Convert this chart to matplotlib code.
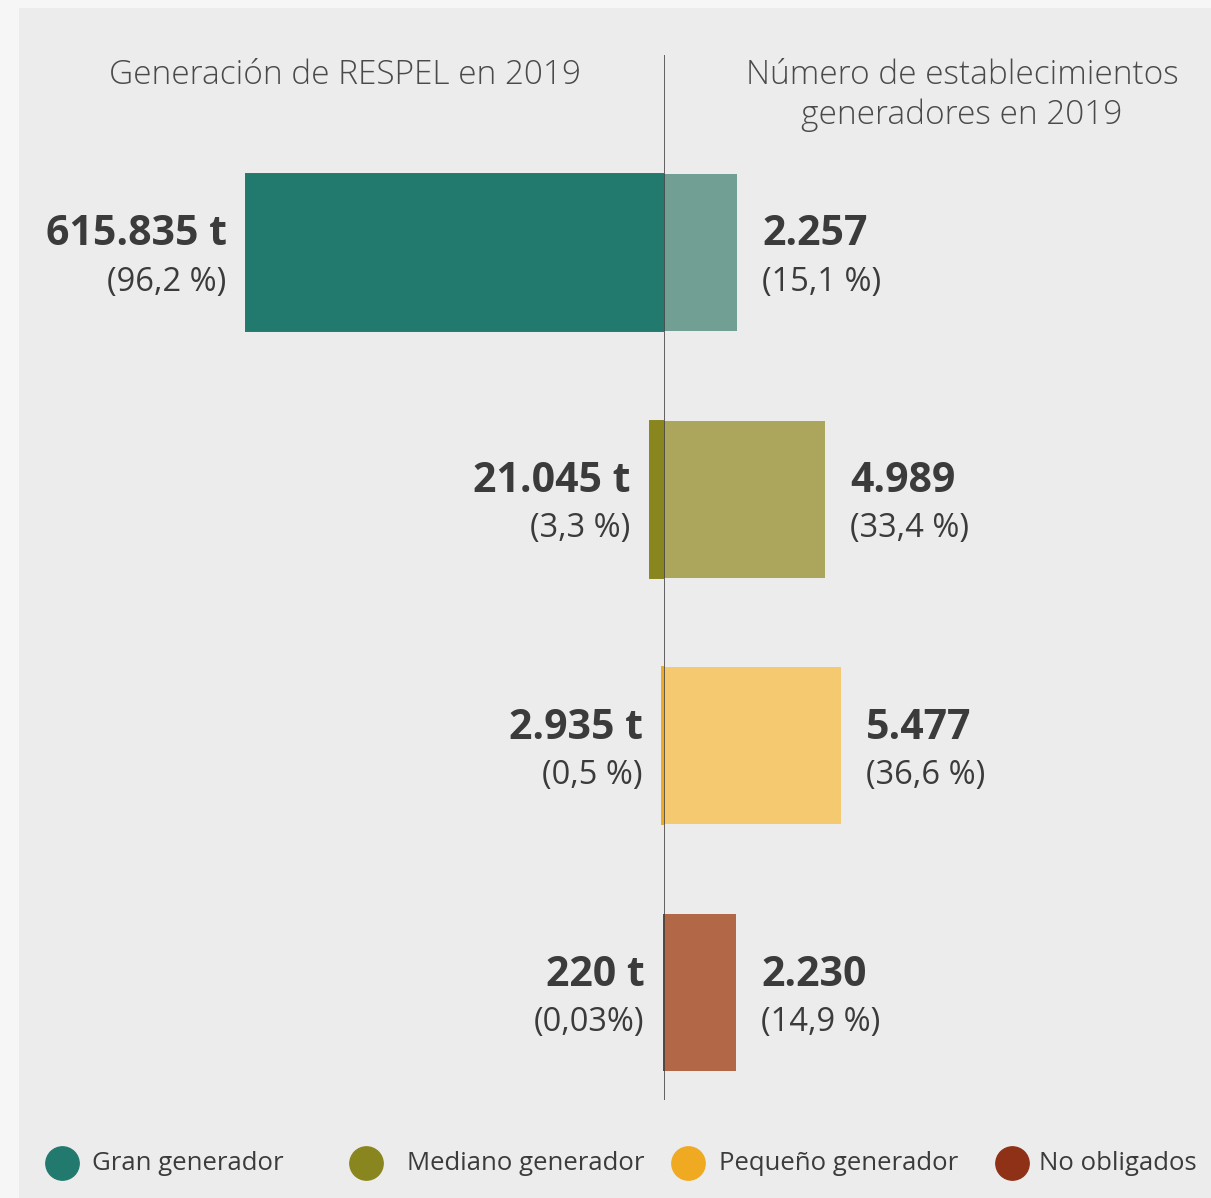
import matplotlib
matplotlib.use("Agg")
import matplotlib.pyplot as plt
from matplotlib.patches import Rectangle
from matplotlib.lines import Line2D

# ---------------- data ----------------
categories = ["Gran generador", "Mediano generador", "Pequeño generador", "No obligados"]
generacion_t = [615835, 21045, 2935, 220]
generacion_lbl = ["615.835 t", "21.045 t", "2.935 t", "220 t"]
generacion_pct = ["(96,2 %)", "(3,3 %)", "(0,5 %)", "(0,03%)"]
establecimientos = [2257, 4989, 5477, 2230]
establecimientos_lbl = ["2.257", "4.989", "5.477", "2.230"]
establecimientos_pct = ["(15,1 %)", "(33,4 %)", "(36,6 %)", "(14,9 %)"]
title_left = "Generación de RESPEL en 2019"
title_right = "Número de establecimientos\ngeneradores en 2019"

colors_dark = ["#217a6d", "#8a861f", "#efaa22", "#8e3116"]
colors_light = ["#729f94", "#aca55c", "#f4c970", "#b26847"]

# ---------------- figure ----------------
W, H = 1211, 1198
fig = plt.figure(figsize=(W / 100, H / 100), dpi=100)
fig.patch.set_facecolor("#f6f6f6")
fig.add_artist(Rectangle((19 / W, 0), 1 - 19 / W, (H - 8) / H,
                         transform=fig.transFigure, facecolor="#ececec",
                         edgecolor="none", zorder=0))

FONT = ["Open Sans", "DejaVu Sans"]
TXT = "#3b3b3b"

xc = 664          # centre line pixel
top, bot = 55, 1100
ax_y0 = (H - bot) / H
ax_h = (bot - top) / H

axL = fig.add_axes([19 / W, ax_y0, (xc - 19) / W, ax_h])
axR = fig.add_axes([xc / W, ax_y0, (W - xc) / W, ax_h])

for ax in (axL, axR):
    ax.set_facecolor("none")
    ax.set_axis_off()
    ax.set_ylim(3.436, -0.8)

axL.set_xlim(615835 * (xc - 19) / 418, 0)
axR.set_xlim(0, 2257 * (W - xc) / 73)

ypos = list(range(len(categories)))
bh = 0.636

axL.barh(ypos, generacion_t, height=bh, color=colors_dark,
         edgecolor=colors_dark, linewidth=1.4, zorder=2)
axR.barh(ypos, establecimientos, height=bh, color=colors_light,
         edgecolor="none", zorder=2)
axR.axvline(0, color="#3a3a3a", lw=1.1, zorder=5)

for i in ypos:
    axL.annotate(generacion_lbl[i], (generacion_t[i], i), xytext=(-14, 12.5),
                 textcoords="offset points", ha="right", va="center",
                 fontsize=29.5, fontweight="bold", color=TXT, family=FONT)
    axL.annotate(generacion_pct[i], (generacion_t[i], i), xytext=(-14, -21.5),
                 textcoords="offset points", ha="right", va="center",
                 fontsize=23.5, color=TXT, family=FONT)
    axR.annotate(establecimientos_lbl[i], (establecimientos[i], i), xytext=(18, 12.5),
                 textcoords="offset points", ha="left", va="center",
                 fontsize=29.5, fontweight="bold", color=TXT, family=FONT)
    axR.annotate(establecimientos_pct[i], (establecimientos[i], i), xytext=(18, -21.5),
                 textcoords="offset points", ha="left", va="center",
                 fontsize=23.5, color=TXT, family=FONT)

fig.text(345 / W, 1 - 75 / H, title_left, ha="center", va="center",
         fontsize=24, fontweight="light", color="#4a4a4a", family=FONT)
fig.text(962 / W, 1 - 95 / H, title_right, ha="center", va="center",
         fontsize=24, fontweight="light", color="#4a4a4a", family=FONT,
         linespacing=1.25)

# legend
leg_x = [62, 366, 688, 1012]
leg_tx = [92, 407, 719, 1039]
leg_y = 1 - 1163 / H
for i, c in enumerate(categories):
    fig.add_artist(Line2D([leg_x[i] / W], [leg_y], marker="o", markersize=24,
                          color=colors_dark[i], linestyle="none",
                          transform=fig.transFigure))
    fig.text(leg_tx[i] / W, leg_y, c, ha="left", va="center",
             fontsize=18.5, color=TXT, family=FONT)

fig.savefig("out.png", dpi=100, facecolor=fig.get_facecolor())
